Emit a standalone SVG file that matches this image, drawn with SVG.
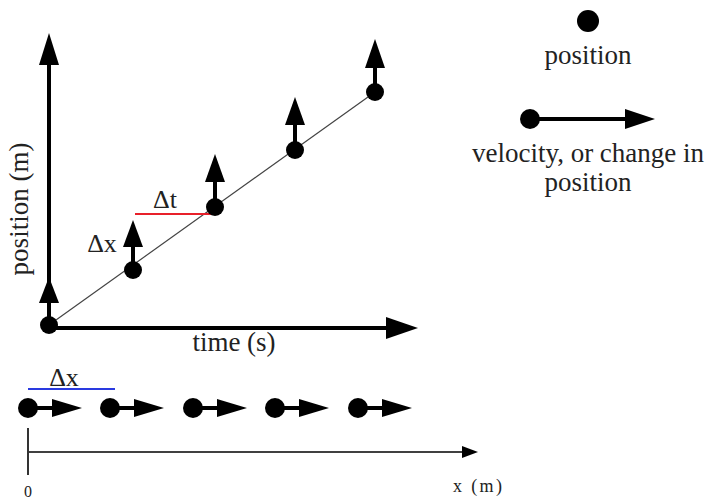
<svg xmlns="http://www.w3.org/2000/svg" width="712" height="499" viewBox="0 0 712 499">
<style>
.ax{stroke:#000;stroke-width:4;fill:none}
.vel{stroke:#000;stroke-width:4;fill:none}
.dot{fill:#000}
.head{fill:#000}
.f{font-family:'Liberation Serif',serif !important;fill:#222}
</style>
<rect width="712" height="499" fill="#fff"/>
<g id="connectors">
  <line x1="49" y1="325" x2="375" y2="92" stroke="#444" stroke-width="1.2"/>
  <line class="ax" x1="49" y1="325" x2="49" y2="62"/>
  <polygon class="head" points="49,33 39,65 59,65"/>
  <line class="ax" x1="49" y1="328" x2="390" y2="328"/>
  <polygon class="head" points="418,328 386,317 386,339"/>
  <line x1="135" y1="214" x2="215" y2="214" stroke="#e8202a" stroke-width="2"/>
  <line x1="28" y1="389" x2="115" y2="389" stroke="#2a3ae0" stroke-width="2"/>
  <line x1="28" y1="428" x2="28" y2="475" stroke="#000" stroke-width="1.6"/>
  <line x1="29" y1="452" x2="465" y2="452" stroke="#000" stroke-width="1.6"/>
  <polygon class="head" points="478,452 462,446 462,458"/>
</g>
<g id="origin">
  <line class="vel" x1="49" y1="325" x2="49" y2="300"/>
  <polygon class="head" points="49,277 39,303 59,303"/>
  <circle class="dot" cx="49" cy="325" r="9"/>
</g>
<g id="p1">
  <line class="vel" x1="133" y1="270" x2="133" y2="244"/>
  <polygon class="head" points="133,220 123,247 143,247"/>
  <circle class="dot" cx="133" cy="270" r="9"/>
</g>
<g id="p2">
  <line class="vel" x1="215" y1="207" x2="215" y2="180"/>
  <polygon class="head" points="215,154 205,182 225,182"/>
  <circle class="dot" cx="215" cy="207" r="9"/>
</g>
<g id="p3">
  <line class="vel" x1="295" y1="150" x2="295" y2="123"/>
  <polygon class="head" points="295,97 285,125 305,125"/>
  <circle class="dot" cx="295" cy="150" r="9"/>
</g>
<g id="p4">
  <line class="vel" x1="375" y1="92" x2="375" y2="66"/>
  <polygon class="head" points="375,39 365,68 385,68"/>
  <circle class="dot" cx="375" cy="92" r="9"/>
</g>
<g id="labels">
  <text class="f" x="165" y="208" font-size="26" font-family="Liberation Serif" style="font-family:'Liberation Serif',serif" text-anchor="middle">Δt</text>
  <text class="f" x="102" y="252" font-size="26" font-family="Liberation Serif" style="font-family:'Liberation Serif',serif" text-anchor="middle">Δx</text>
  <text class="f" transform="translate(28,209) rotate(-90)" font-size="27" font-family="Liberation Serif" style="font-family:'Liberation Serif',serif" text-anchor="middle">position (m)</text>
  <text class="f" x="234" y="351" font-size="27" font-family="Liberation Serif" style="font-family:'Liberation Serif',serif" text-anchor="middle">time (s)</text>
  <text class="f" x="64" y="386" font-size="26" font-family="Liberation Serif" style="font-family:'Liberation Serif',serif" text-anchor="middle">Δx</text>
  <text class="f" x="28" y="497" font-size="16" font-family="Liberation Serif" style="font-family:'Liberation Serif',serif" text-anchor="middle">0</text>
  <text class="f" x="453" y="492" font-size="18" font-family="Liberation Serif" style="font-family:'Liberation Serif',serif" textLength="49">x (m)</text>
</g>
<g id="b1">
  <line class="vel" x1="28" y1="408" x2="54" y2="408"/>
  <polygon class="head" points="82,408 52,399 52,417"/>
  <circle class="dot" cx="28" cy="408" r="10"/>
</g>
<g id="b2">
  <line class="vel" x1="110" y1="408" x2="136" y2="408"/>
  <polygon class="head" points="164,408 134,399 134,417"/>
  <circle class="dot" cx="110" cy="408" r="10"/>
</g>
<g id="b3">
  <line class="vel" x1="193" y1="408" x2="219" y2="408"/>
  <polygon class="head" points="247,408 217,399 217,417"/>
  <circle class="dot" cx="193" cy="408" r="10"/>
</g>
<g id="b4">
  <line class="vel" x1="275" y1="408" x2="301" y2="408"/>
  <polygon class="head" points="329,408 299,399 299,417"/>
  <circle class="dot" cx="275" cy="408" r="10"/>
</g>
<g id="b5">
  <line class="vel" x1="358" y1="408" x2="384" y2="408"/>
  <polygon class="head" points="412,408 382,399 382,417"/>
  <circle class="dot" cx="358" cy="408" r="10"/>
</g>
<g id="legend-position">
  <circle class="dot" cx="588" cy="21" r="11"/>
  <text class="f" x="588" y="64" font-size="27" font-family="Liberation Serif" style="font-family:'Liberation Serif',serif" text-anchor="middle">position</text>
</g>
<g id="legend-velocity">
  <line class="vel" x1="530" y1="119" x2="628" y2="119"/>
  <polygon class="head" points="655,119 625,109 625,129"/>
  <circle class="dot" cx="530" cy="119" r="10"/>
  <text class="f" x="588" y="162" font-size="27" font-family="Liberation Serif" style="font-family:'Liberation Serif',serif" text-anchor="middle">velocity, or change in</text>
  <text class="f" x="588" y="191" font-size="27" font-family="Liberation Serif" style="font-family:'Liberation Serif',serif" text-anchor="middle">position</text>
</g>
</svg>
